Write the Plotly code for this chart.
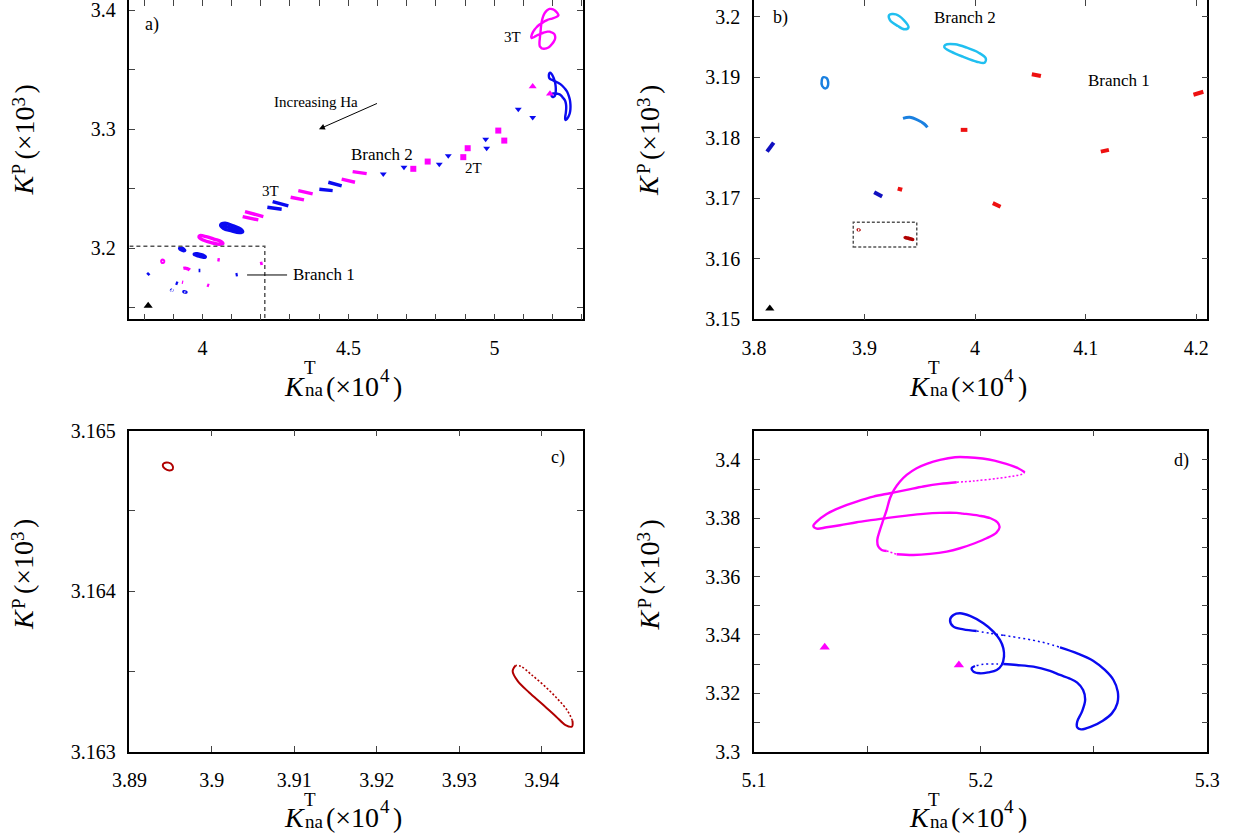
import plotly.graph_objects as go

W, H = 1236, 839
SERIF = "Liberation Serif"

# ---------------- data (x: K_na^T in 1e4, y: K^P in 1e3) ----------------
black_tri_x = [3.8143]
black_tri_y = [3.1518]

# lower-left cluster (framed in panel a, enlarged in panel b)
b1_x = [3.8118, 3.8178];            b1_y = [3.1777, 3.1792]
b2_x = [3.9087, 3.9159];            b2_y = [3.1710, 3.1703]
b3_x = [3.894186, 3.894744, 3.895209, 3.895256, 3.894837, 3.894279, 3.894047, 3.894186]
b3_y = [3.164797, 3.164801, 3.164785, 3.164760, 3.164752, 3.164764, 3.164783, 3.164797]
b4_x = [3.93684, 3.93647, 3.93707, 3.93847, 3.94009, 3.94172, 3.94288, 3.94367,
        3.94372, 3.94312, 3.94195, 3.94033, 3.93870, 3.93753, 3.93684]
b4_y = [3.163538, 3.163503, 3.163441, 3.163369, 3.163296, 3.163220, 3.163166, 3.163157,
        3.163193, 3.163255, 3.163327, 3.163410, 3.163482, 3.163530, 3.163538]
b5_x = [3.9870, 3.9930];            b5_y = [3.1813, 3.1813]
b6_x = [4.1137, 4.1210];            b6_y = [3.1777, 3.1780]
b7_x = [3.92228, 3.92834, 3.93547, 3.93975, 3.93619, 3.93012, 3.92299, 3.92228]
b7_y = [3.20028, 3.20039, 3.19945, 3.19824, 3.19791, 3.19846, 3.19945, 3.20028]
b8_x = [3.97291, 3.98182, 3.99251, 4.00321, 4.00963, 4.00856, 4.00143, 3.98895, 3.97825, 3.97219, 3.97291]
b8_y = [3.19532, 3.19543, 3.19488, 3.19405, 3.19312, 3.19240, 3.19257, 3.19339, 3.19422, 3.19493, 3.19532]
m1_x = [3.9300, 3.9340];            m1_y = [3.1716, 3.1714]
m2_x = [3.86239, 3.86595, 3.86702, 3.86488, 3.86168, 3.86132, 3.86239]
m2_y = [3.18998, 3.18981, 3.18871, 3.18816, 3.18855, 3.18954, 3.18998]
m3_x = [3.93476, 3.94082, 3.94795, 3.95401, 3.95686]
m3_y = [3.18320, 3.18337, 3.18293, 3.18227, 3.18172]
m4_x = [4.0160, 4.0230];            m4_y = [3.1692, 3.1686]
m5_x = [4.0513, 4.0595];            m5_y = [3.1905, 3.1902]
m6_x = [4.1975, 4.2064];            m6_y = [3.1871, 3.1876]

# middle chain of panel a
b9_x = [4.0626, 4.0774, 4.1059, 4.1311, 4.1379, 4.1265, 4.1002, 4.0717, 4.0626]
b9_y = [3.21958, 3.22098, 3.21874, 3.21622, 3.21398, 3.21313, 3.21454, 3.21678, 3.21958]
b9i_x = [4.0680, 4.1320];           b9i_y = [3.2192, 3.2145]
b10a_x = [4.2406, 4.2943];          b10a_y = [3.23918, 3.23555]
b10b_x = [4.2224, 4.2715];          b10b_y = [3.23443, 3.23275]
b11a_x = [4.4313, 4.4770];          b11a_y = [3.25544, 3.25235]
b11b_x = [4.4005, 4.4461];          b11b_y = [3.24955, 3.24843]
m7_x = [3.9906, 4.0135, 4.0420, 4.0648, 4.0705, 4.0591, 4.0306, 4.0021, 3.9884, 3.9906]
m7_y = [3.21061, 3.20977, 3.20754, 3.20557, 3.20418, 3.20334, 3.20473, 3.20697, 3.20922, 3.21061]
m8a_x = [4.1459, 4.2087];           m8a_y = [3.23078, 3.22658]
m8b_x = [4.1379, 4.1916];           m8b_y = [3.22658, 3.22378]
m9a_x = [4.3285, 4.3776];           m9a_y = [3.24843, 3.24563]
m9b_x = [4.3023, 4.3479];           m9b_y = [3.24283, 3.24059]
m10_x = [4.4770, 4.5226];           m10_y = [3.25798, 3.25546]
m11_x = [4.5146, 4.5626];           m11_y = [3.26439, 3.26271]

blue_dots_x = [4.6195, 4.6904, 4.8113, 4.8421, 4.9702, 4.9736, 5.0818, 5.1312]
blue_dots_y = [3.2624, 3.2680, 3.2706, 3.2776, 3.2916, 3.2840, 3.3168, 3.3098]
mag_dots_x = [4.7223, 4.7716, 4.8935, 4.9086, 5.0134, 5.0339]
mag_dots_y = [3.2667, 3.2728, 3.2765, 3.2840, 3.2988, 3.2904]
mag_tri_x = [5.1312, 5.1904]
mag_tri_y = [3.3358, 3.3297]

# 3T magenta curve (panel d, also panel a)
mag3t_x = [5.21948, 5.21652, 5.21130, 5.20609, 5.20087, 5.19391, 5.18870, 5.18205, 5.17619,
           5.17176, 5.16736, 5.16442, 5.16176, 5.16000, 5.15854, 5.15704, 5.15558, 5.15440,
           5.15484, 5.15633, 5.15854, 5.16294, 5.17030, 5.17765, 5.18501, 5.19089, 5.19739,
           5.20261, 5.20696, 5.20835, 5.20748, 5.20435, 5.19913, 5.19217, 5.18943, 5.18205,
           5.17470, 5.16736, 5.16000, 5.15264, 5.14530, 5.13793, 5.13207, 5.12765, 5.12617,
           5.12765, 5.13207, 5.13793, 5.14530, 5.15264, 5.16000, 5.16736, 5.17470, 5.18205,
           5.18943, 5.19739, 5.20783, 5.21478, 5.21826, 5.21948]
mag3t_y = [3.39577, 3.39714, 3.39863, 3.39977, 3.40046, 3.40091, 3.40091, 3.40000, 3.39863,
           3.39714, 3.39486, 3.39257, 3.38971, 3.38686, 3.38286, 3.37943, 3.37600, 3.37257,
           3.37029, 3.36914, 3.36880, 3.36766, 3.36743, 3.36777, 3.36857, 3.36971, 3.37143,
           3.37314, 3.37509, 3.37691, 3.37851, 3.38000, 3.38091, 3.38160, 3.38183, 3.38183,
           3.38149, 3.38091, 3.38023, 3.37943, 3.37863, 3.37760, 3.37691, 3.37646, 3.37737,
           3.37886, 3.38149, 3.38366, 3.38571, 3.38743, 3.38857, 3.38971, 3.39086, 3.39177,
           3.39234, 3.39280, 3.39371, 3.39451, 3.39509, 3.39577]

# blue curve (panel d, also panel a)
blue_x = [5.2100, 5.2225, 5.2291, 5.2350, 5.2426, 5.2496, 5.2548, 5.2586, 5.2605, 5.2603,
          5.2579, 5.2539, 5.2487, 5.2443, 5.2426, 5.2426, 5.2447, 5.2461, 5.2452, 5.2426,
          5.2391, 5.2350, 5.2306, 5.2233, 5.2159, 5.2100, 5.2071, 5.2012, 5.1975, 5.1960,
          5.1968, 5.1997, 5.2034, 5.2071, 5.2093, 5.2103, 5.2100, 5.2085, 5.2056, 5.2012,
          5.1953, 5.1909, 5.1880, 5.1865, 5.1880, 5.1924, 5.1982, 5.2041, 5.2100]
blue_y = [3.33989, 3.33829, 3.33714, 3.33577, 3.33371, 3.33120, 3.32800, 3.32457, 3.32057, 3.31657,
          3.31314, 3.31063, 3.30857, 3.30766, 3.30834, 3.31029, 3.31371, 3.31771, 3.32114, 3.32366,
          3.32514, 3.32629, 3.32766, 3.32914, 3.32971, 3.33006, 3.33006, 3.32994, 3.32937, 3.32857,
          3.32743, 3.32686, 3.32720, 3.32800, 3.32971, 3.33257, 3.33543, 3.33829, 3.34114, 3.34400,
          3.34651, 3.34743, 3.34686, 3.34514, 3.34286, 3.34194, 3.34137, 3.34057, 3.33989]

# sparse (dotted-looking) stretches of the curves, as index ranges
blue_sparse = [(0, 3), (25, 28), (46, 48)]
blue_dense = [(3, 25), (28, 46)]
mag_sparse = [(20, 21), (54, 59)]
mag_dense = [(0, 20), (21, 54)]

# tick values / labels
a_xticks = [3.8, 3.9, 4.0, 4.1, 4.2, 4.3, 4.4, 4.5, 4.6, 4.7, 4.8, 4.9, 5.0, 5.1, 5.2, 5.3]
a_xlabels = ["", "", "4", "", "", "", "", "4.5", "", "", "", "", "5", "", "", ""]
a_yticks = [3.15, 3.2, 3.25, 3.3, 3.35, 3.4]
a_ylabels = ["", "3.2", "", "3.3", "", "3.4"]
b_xticks = [3.8, 3.9, 4.0, 4.1, 4.2]
b_xlabels = ["3.8", "3.9", "4", "4.1", "4.2"]
b_yticks = [3.15, 3.16, 3.17, 3.18, 3.19, 3.2]
b_ylabels = ["3.15", "3.16", "3.17", "3.18", "3.19", "3.2"]
c_xticks = [3.89, 3.9, 3.91, 3.92, 3.93, 3.94]
c_xlabels = ["3.89", "3.9", "3.91", "3.92", "3.93", "3.94"]
c_yticks = [3.163, 3.1635, 3.164, 3.1645, 3.165]
c_ylabels = ["3.163", "", "3.164", "", "3.165"]
d_xticks = [5.1, 5.15, 5.2, 5.25, 5.3]
d_xlabels = ["5.1", "", "5.2", "", "5.3"]
d_yticks = [3.3, 3.31, 3.32, 3.33, 3.34, 3.35, 3.36, 3.37, 3.38, 3.39, 3.4]
d_ylabels = ["3.3", "", "3.32", "", "3.34", "", "3.36", "", "3.38", "", "3.4"]

# ---------------- helpers ----------------
def join(*pairs):
    xs, ys = [], []
    for px, py in pairs:
        if xs:
            xs.append(None); ys.append(None)
        xs += px; ys += py
    return xs, ys

def pieces(xs, ys, ranges):
    return join(*[(xs[a:b + 1], ys[a:b + 1]) for a, b in ranges])

fig = go.Figure()

def path(xs, ys, color, width, ax, dash="solid", spline=True):
    fig.add_trace(go.Scatter(
        x=xs, y=ys, mode="lines", xaxis="x" + ax, yaxis="y" + ax,
        line=dict(color=color, width=width, dash=dash,
                  shape="spline" if spline else "linear", smoothing=1.0),
        hoverinfo="skip", showlegend=False, connectgaps=False))

def dots(xs, ys, color, symbol, size, ax):
    fig.add_trace(go.Scatter(
        x=xs, y=ys, mode="markers", xaxis="x" + ax, yaxis="y" + ax,
        marker=dict(color=color, symbol=symbol, size=size, line=dict(width=0)),
        hoverinfo="skip", showlegend=False))

BLUE = "#0a0af0"
MAG = "#ff00ff"
RED = "#ee1010"
DRED = "#b00000"
DBLUE = "#1010c0"
MBLUE = "#1a80e0"
LBLUE = "#20bff0"

# ---- panel a ----
ax = ""
bx, by = join((b1_x, b1_y), (b2_x, b2_y), (b3_x, b3_y), (b4_x, b4_y), (b5_x, b5_y), (b6_x, b6_y),
              (b7_x, b7_y), (b8_x, b8_y), (b9_x, b9_y), (b9i_x, b9i_y), (b10a_x, b10a_y),
              (b10b_x, b10b_y), (b11a_x, b11a_y), (b11b_x, b11b_y))
path(bx, by, BLUE, 3.4, ax)
mx, my = join((m1_x, m1_y), (m2_x, m2_y), (m3_x, m3_y), (m4_x, m4_y), (m5_x, m5_y), (m6_x, m6_y),
              (m7_x, m7_y), (m8a_x, m8a_y), (m8b_x, m8b_y), (m9a_x, m9a_y), (m9b_x, m9b_y),
              (m10_x, m10_y), (m11_x, m11_y))
path(mx, my, MAG, 3.4, ax)
path(mag3t_x, mag3t_y, MAG, 2.4, ax)
path(blue_x, blue_y, BLUE, 2.4, ax)
dots(blue_dots_x, blue_dots_y, BLUE, "triangle-down", 6, ax)
dots(mag_dots_x, mag_dots_y, MAG, "square", 6, ax)
dots(mag_tri_x, mag_tri_y, MAG, "triangle-up", 7, ax)
dots(black_tri_x, black_tri_y, "black", "triangle-up", 8, ax)

# ---- panel b ----
ax = "2"
x_, y_ = join((b1_x, b1_y), (b2_x, b2_y)); path(x_, y_, DBLUE, 4, ax)
path(m2_x, m2_y, MBLUE, 2.5, ax)
path(m3_x, m3_y, MBLUE, 3, ax)
x_, y_ = join((b7_x, b7_y), (b8_x, b8_y)); path(x_, y_, LBLUE, 2.5, ax)
x_, y_ = join((m1_x, m1_y), (b5_x, b5_y), (m4_x, m4_y), (m5_x, m5_y), (b6_x, b6_y), (m6_x, m6_y))
path(x_, y_, RED, 4, ax)
x_, y_ = join((b3_x, b3_y), (b4_x, b4_y)); path(x_, y_, DRED, 3, ax)
dots(black_tri_x, black_tri_y, "black", "triangle-up", 8, ax)

# ---- panel c ----
ax = "3"
path(b3_x, b3_y, DRED, 2, ax)
path(b4_x[:9], b4_y[:9], DRED, 2, ax)
path(b4_x[8:], b4_y[8:], DRED, 1.6, ax, dash="2px,2px")

# ---- panel d ----
ax = "4"
x_, y_ = pieces(mag3t_x, mag3t_y, mag_dense); path(x_, y_, MAG, 2.4, ax)
x_, y_ = pieces(mag3t_x, mag3t_y, mag_sparse); path(x_, y_, MAG, 1.5, ax, dash="2px,2px")
x_, y_ = pieces(blue_x, blue_y, blue_dense); path(x_, y_, BLUE, 2.4, ax)
x_, y_ = pieces(blue_x, blue_y, blue_sparse); path(x_, y_, BLUE, 1.5, ax, dash="2px,3px")
dots(mag_tri_x, mag_tri_y, MAG, "triangle-up", 9, ax)

# ---------------- axes ----------------
def px_dom(p0, p1, total):
    return [p0 / total, p1 / total]

AX_L, AX_R = 129.4, 583.0
BX_L, BX_R = 754.0, 1207.3
TOP_Y = [1 - 319.3 / H, 1.0]
BOT_Y = [1 - 751.7 / H, 1 - 430.7 / H]

def axis(domain, rng, tv, tt, anchor, is_x):
    return dict(domain=domain, range=rng, tickmode="array", tickvals=tv, ticktext=tt,
                ticks="inside", ticklen=6, tickwidth=1.3, tickcolor="#444",
                showline=True, linecolor="black", linewidth=1.5, mirror="ticks",
                showgrid=False, zeroline=False, anchor=anchor, fixedrange=True,
                automargin=False, ticklabeloverflow="allow",
                tickfont=dict(family=SERIF, size=20, color="black"),
                ticklabelstandoff=10 if is_x else 8)

fig.update_layout(
    width=W, height=H, margin=dict(l=0, r=0, t=0, b=0, autoexpand=False),
    paper_bgcolor="white", plot_bgcolor="white", showlegend=False,
    xaxis=axis(px_dom(AX_L, AX_R, W), [3.75, 5.3035], a_xticks, a_xlabels, "y", True),
    yaxis=axis(TOP_Y, [3.1404, 3.4084], a_yticks, a_ylabels, "x", False),
    xaxis2=axis(px_dom(BX_L, BX_R, W), [3.8, 4.21], b_xticks, b_xlabels, "y2", True),
    yaxis2=axis(TOP_Y, [3.15, 3.20276], b_yticks, b_ylabels, "x2", False),
    xaxis3=axis(px_dom(AX_L, AX_R, W), [3.89, 3.945], c_xticks, c_xlabels, "y3", True),
    yaxis3=axis(BOT_Y, [3.163, 3.165], c_yticks, c_ylabels, "x3", False),
    xaxis4=axis(px_dom(BX_L, BX_R, W), [5.1, 5.3], d_xticks, d_xlabels, "y4", True),
    yaxis4=axis(BOT_Y, [3.3, 3.41], d_yticks, d_ylabels, "x4", False),
)

# ---------------- shapes ----------------
shapes = [
    dict(type="path", xref="x", yref="y", path="M 3.75,3.2017 L 4.2137,3.2017 L 4.2137,3.1404",
         line=dict(color="#555", width=1.5, dash="4px,3px")),
    dict(type="line", xref="x", yref="y", x0=4.153, x1=4.29, y0=3.1776, y1=3.1776,
         line=dict(color="black", width=1)),
    dict(type="rect", xref="x2", yref="y2", x0=3.8898, x1=3.9472, y0=3.16195, y1=3.16602,
         line=dict(color="#555", width=1.5, dash="3px,2px")),
]
fig.update_layout(shapes=shapes)

# ---------------- annotations ----------------
ann = []

def txt(text, x, y, xref, yref, size, xanchor="center"):
    ann.append(dict(text=text, x=x, y=y, xref=xref, yref=yref, showarrow=False,
                    xanchor=xanchor, yanchor="middle",
                    font=dict(family=SERIF, size=size, color="black")))

txt("a)", 0.05, 0.922, "x domain", "y domain", 18)
txt("3T", 5.063, 3.3771, "x", "y", 15)
txt("Increasing Ha", 4.389, 3.3229, "x", "y", 15)
txt("Branch 2", 4.614, 3.2784, "x", "y", 17)
txt("2T", 4.928, 3.2672, "x", "y", 15)
txt("3T", 4.234, 3.2484, "x", "y", 15)
txt("Branch 1", 4.3034, 3.1776, "x", "y", 17, xanchor="left")
ann.append(dict(x=4.399, y=3.300, ax=4.603, ay=3.3221, xref="x", yref="y", axref="x", ayref="y",
                showarrow=True, arrowhead=2, arrowsize=1.2, arrowwidth=1, arrowcolor="black", text=""))

txt("b)", 0.059, 0.944, "x2 domain", "y2 domain", 18)
txt("Branch 2", 3.9908, 3.1998, "x2", "y2", 17)
txt("Branch 1", 4.1301, 3.18954, "x2", "y2", 17)
txt("c)", 0.945, 0.918, "x3 domain", "y3 domain", 18)
txt("d)", 0.944, 0.906, "x4 domain", "y4 domain", 18)

X_TITLE = [("<i>K</i>", 28, 0, 0), ("T", 19, 15, 18.5), ("na", 19, 20, -3.5),
           ("(×10", 28, 58, 0), ("4", 19, 90, 11), (")", 28, 103, 0)]
Y_TITLE = [("<i>K</i>", 28, 0, 0), ("P", 19, 16, 5), ("(×10", 28, 52, 0),
           ("3", 19, 83, 6), (")", 28, 96, 0)]

def title(kx, ky, parts, rotated):
    for text, size, along, up in parts:
        if rotated:
            px, py = kx - up, ky - along
        else:
            px, py = kx + along, ky - up
        ann.append(dict(text=text, x=px / W, y=1 - py / H, xref="paper", yref="paper",
                        xanchor="center", yanchor="middle", showarrow=False,
                        textangle=-90 if rotated else 0, borderpad=0,
                        font=dict(family=SERIF, size=size, color="black")))

ca = (AX_L + AX_R) / 2 - 61.5
cb = (BX_L + BX_R) / 2 - 61.5
title(ca, 386, X_TITLE, False)
title(cb, 386, X_TITLE, False)
title(ca, 817.5, X_TITLE, False)
title(cb, 817.5, X_TITLE, False)
title(23.5, 185, Y_TITLE, True)
title(649, 185, Y_TITLE, True)
title(23.5, 619.5, Y_TITLE, True)
title(649, 619.5, Y_TITLE, True)

fig.update_layout(annotations=ann)
fig.write_html("out.html", config={"displayModeBar": False},
               post_script="document.body.style.margin='0px';")
